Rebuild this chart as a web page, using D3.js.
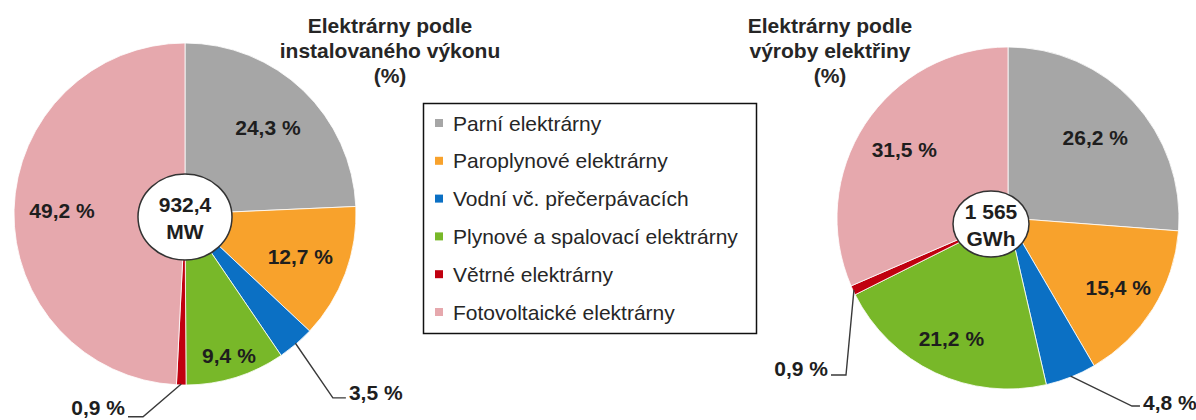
<!DOCTYPE html>
<html><head><meta charset="utf-8">
<script src="https://cdn.jsdelivr.net/npm/d3@7"></script>
<style>
body{margin:0;background:#fff}
svg{display:block}
text{font-family:"Liberation Sans",Arial,sans-serif}
</style>
</head><body>
<svg id="c" width="1196" height="420"></svg>
<script>
// ---- data ----
const categories = ["Parní elektrárny","Paroplynové elektrárny","Vodní vč. přečerpávacích","Plynové a spalovací elektrárny","Větrné elektrárny","Fotovoltaické elektrárny"];
const capacityShares = [24.3, 12.7, 3.5, 9.4, 0.9, 49.2];
const productionShares = [26.2, 15.4, 4.8, 21.2, 0.9, 31.5];
const capacityTitle = ["Elektrárny podle","instalovaného výkonu","(%)"];
const productionTitle = ["Elektrárny podle","výroby elektřiny","(%)"];
const capacityTotal = ["932,4","MW"];
const productionTotal = ["1 565","GWh"];
const colors = ["#a6a6a6","#f8a22c","#0b70c4","#78b829","#c0000f","#e6a8ad"];

// ---- layout ----
const FONT = 21;
const pies = [
  {values: capacityShares, title: capacityTitle, total: capacityTotal,
   cx: 185, cy: 214, r: 171, titleX: 390,
   hub: {dx: 0, dy: 3, rx: 47, ry: 43},
   inRadius: [120, 123, 0, 148, 0, 123],
   outside: {2: {angle: 141.2, rho: 236, dir: 1, hl: 13, ty: -5},
             4: {angle: 191.7, rho: 207, dir: -1, hl: 15, ty: -9}}},
  {values: productionShares, title: productionTitle, total: productionTotal,
   cx: 1008, cy: 218, r: 171, titleX: 830,
   hub: {dx: -17, dy: 6, rx: 38, ry: 33},
   inRadius: [119, 130, 0, 133, 0, 124],
   outside: {2: {angle: 146.6, rho: 225.2, dir: 1, hl: 8, ty: -4},
             4: {angle: 225.9, rho: 225.6, dir: -1, hl: 15, ty: -7}}}
];

const svg = d3.select("#c");
const fmt = v => d3.format(".1f")(v).replace(".", ",") + " %";
const pie = d3.pie().sort(null).value(d => d).startAngle(0).endAngle(2 * Math.PI);
const color = d3.scaleOrdinal().domain(categories).range(colors);
const polar = (cx, cy, a, rho) => [cx + rho * Math.sin(a), cy - rho * Math.cos(a)];
const deg = d => d * Math.PI / 180;

pies.forEach(p => {
  const g = svg.append("g");
  const arcs = pie(p.values);
  const arc = d3.arc().innerRadius(0).outerRadius(p.r);
  g.selectAll("path.slice").data(arcs).enter().append("path")
    .attr("class", "slice")
    .attr("transform", `translate(${p.cx},${p.cy})`)
    .attr("d", arc)
    .attr("fill", (d, i) => color(categories[i]))
    .attr("stroke", "#fff").attr("stroke-width", 0.8);

  // labels
  arcs.forEach((d, i) => {
    const mid = (d.startAngle + d.endAngle) / 2;
    if (p.inRadius[i]) {
      const [x, y] = polar(p.cx, p.cy, mid, p.inRadius[i]);
      g.append("text").attr("x", x).attr("y", y).attr("dy", "0.36em")
        .attr("text-anchor", "middle").attr("font-size", FONT).attr("font-weight", "bold")
        .attr("fill", "#1e1e1e").text(fmt(d.data));
    } else {
      const o = p.outside[i];
      const s = polar(p.cx, p.cy, mid, p.r - 1);
      const e = polar(p.cx, p.cy, deg(o.angle), o.rho);
      const h = [e[0] + o.dir * o.hl, e[1]];
      g.append("path").attr("d", d3.line()([s, e, h]))
        .attr("fill", "none").attr("stroke", "#3a3a3a").attr("stroke-width", 1.4);
      g.append("text").attr("x", h[0] + o.dir * 3).attr("y", e[1] + o.ty).attr("dy", "0.36em")
        .attr("text-anchor", o.dir > 0 ? "start" : "end")
        .attr("font-size", FONT).attr("font-weight", "bold").attr("fill", "#1e1e1e")
        .text(fmt(d.data));
    }
  });

  // hub
  const hx = p.cx + p.hub.dx, hy = p.cy + p.hub.dy;
  g.append("ellipse").attr("cx", hx).attr("cy", hy).attr("rx", p.hub.rx).attr("ry", p.hub.ry)
    .attr("fill", "#fff").attr("stroke", "#333").attr("stroke-width", 1.5);
  p.total.forEach((t, k) => {
    g.append("text").attr("x", hx).attr("y", hy + (k === 0 ? -13 : 14)).attr("dy", "0.36em")
      .attr("text-anchor", "middle").attr("font-size", FONT).attr("font-weight", "bold")
      .attr("fill", "#1e1e1e").text(t);
  });

  // title
  p.title.forEach((t, k) => {
    svg.append("text").attr("x", p.titleX).attr("y", 25 + k * 25).attr("dy", "0.36em")
      .attr("text-anchor", "middle").attr("font-size", FONT).attr("font-weight", "bold")
      .attr("fill", "#262626").text(t);
  });
});

// legend
const legX = 423, legY = 103, legW = 333, legH = 230;
const rowY = d3.scalePoint().domain(categories).range([legY + 20, legY + 209]);
const lg = svg.append("g");
lg.append("rect").attr("x", legX + 0.5).attr("y", legY + 0.5).attr("width", legW).attr("height", legH)
  .attr("fill", "#fff").attr("stroke", "#111").attr("stroke-width", 1.5);
categories.forEach(c => {
  lg.append("rect").attr("x", legX + 12).attr("y", rowY(c) - 4).attr("width", 8).attr("height", 8)
    .attr("fill", color(c));
  lg.append("text").attr("x", legX + 30).attr("y", rowY(c)).attr("dy", "0.36em")
    .attr("font-size", FONT).attr("fill", "#262626").text(c);
});
</script>
</body></html>
